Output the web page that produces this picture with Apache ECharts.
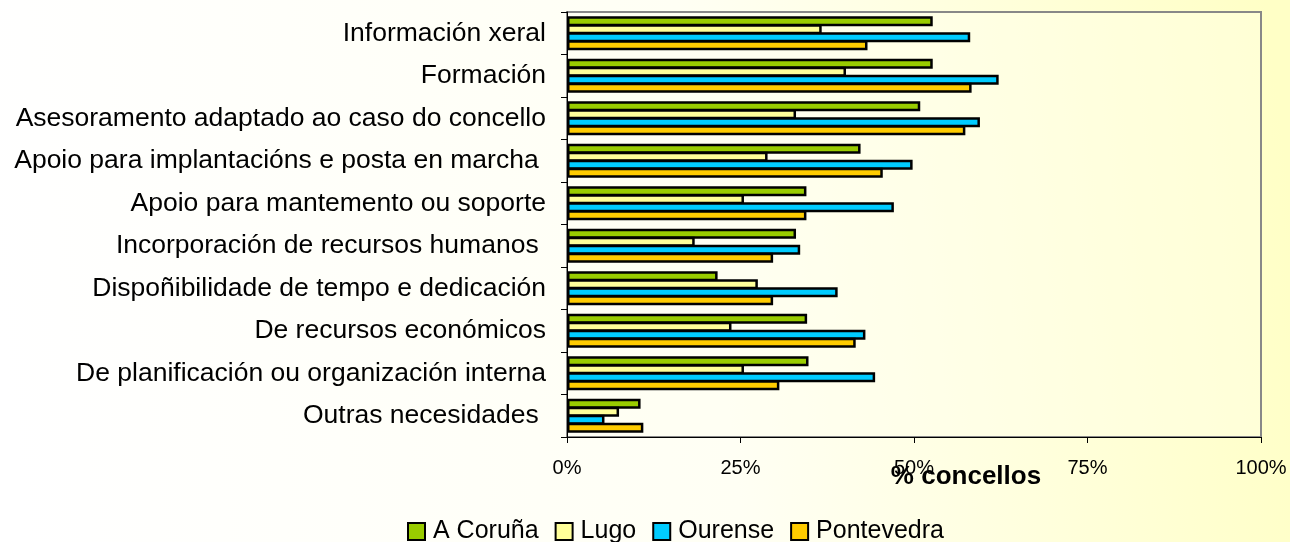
<!DOCTYPE html>
<html>
<head>
<meta charset="utf-8">
<script src="https://cdn.jsdelivr.net/npm/echarts@6/dist/echarts.min.js"></script>
<style>
  html, body { margin: 0; padding: 0; }
  #chart { width: 1290px; height: 542px; }
</style>
</head>
<body>
<div id="chart"></div>
<script>
const categories = [
  'Información xeral',
  'Formación',
  'Asesoramento adaptado ao caso do concello',
  'Apoio para implantacións e posta en marcha ',
  'Apoio para mantemento ou soporte',
  'Incorporación de recursos humanos ',
  'Dispoñibilidade de tempo e dedicación',
  'De recursos económicos',
  'De planificación ou organización interna',
  'Outras necesidades '
];
const coruna = [52.7, 52.7, 50.9, 42.3, 34.5, 33.0, 21.7, 34.6, 34.8, 10.6];
const lugo = [36.7, 40.2, 33.0, 28.9, 25.5, 18.4, 27.5, 23.7, 25.5, 7.5];
const ourense = [58.1, 62.2, 59.5, 49.8, 47.1, 33.6, 39.0, 43.0, 44.4, 5.4];
const pontevedra = [43.3, 58.3, 57.4, 45.5, 34.5, 29.7, 29.7, 41.6, 30.6, 11.0];
const xTicks = [0, 25, 50, 75, 100];

const font = 'Liberation Sans, Arial, sans-serif';

function barSeries(name, data, color) {
  return {
    name: name,
    type: 'bar',
    data: data,
    barWidth: 10,
    barGap: '-20%',
    itemStyle: { color: color, borderColor: '#000', borderWidth: 2.5 },
    emphasis: { disabled: true },
  };
}

const chart = echarts.init(document.getElementById('chart'), null, { renderer: 'canvas' });

chart.setOption({
  animation: false,
  backgroundColor: new echarts.graphic.LinearGradient(0, 0.65, 1, 0.35, [
    { offset: 0, color: '#ffffff' },
    { offset: 0.55, color: '#fffff4' },
    { offset: 1, color: '#ffffc6' },
  ]),
  grid: {
    left: 567,
    top: 12,
    width: 694,
    height: 425,
    show: true,
    backgroundColor: 'rgba(255,255,240,0.35)',
    borderColor: '#888',
    borderWidth: 2,
  },
  legend: {
    left: 402,
    top: 514,
    itemWidth: 17,
    itemHeight: 17,
    itemGap: 16,
    icon: 'rect',
    itemStyle: { borderColor: '#000', borderWidth: 2 },
    textStyle: { fontFamily: font, fontSize: 25, color: '#000', padding: [0, 0, 0, 3] },
  },
  xAxis: {
    type: 'value',
    min: 0,
    max: 100,
    interval: 25,
    name: '% concellos',
    nameLocation: 'middle',
    nameGap: 27,
    nameMoveOverlap: false,
    nameTextStyle: {
      fontFamily: font, fontSize: 26, fontWeight: 'bold', color: '#000',
      padding: [0, 0, 0, 104],
    },
    axisLine: { show: true, lineStyle: { color: '#000', width: 1 } },
    axisTick: { show: true, length: 6, lineStyle: { color: '#000' } },
    splitLine: { show: false },
    axisLabel: {
      margin: 21,
      fontFamily: font,
      fontSize: 20,
      color: '#000',
      formatter: (v) => xTicks.includes(v) ? v + '%' : '',
    },
  },
  yAxis: {
    type: 'category',
    data: categories,
    inverse: true,
    axisLine: { show: true, lineStyle: { color: '#000', width: 1 } },
    axisTick: { show: true, length: 6, lineStyle: { color: '#000' } },
    axisLabel: { margin: 21, fontFamily: font, fontSize: 26.5, color: '#000' },
  },
  series: [
    barSeries('A Coruña', coruna, '#99cc00'),
    barSeries('Lugo', lugo, '#ffff99'),
    barSeries('Ourense', ourense, '#00ccff'),
    barSeries('Pontevedra', pontevedra, '#ffcc00'),
  ],
});
</script>
</body>
</html>
